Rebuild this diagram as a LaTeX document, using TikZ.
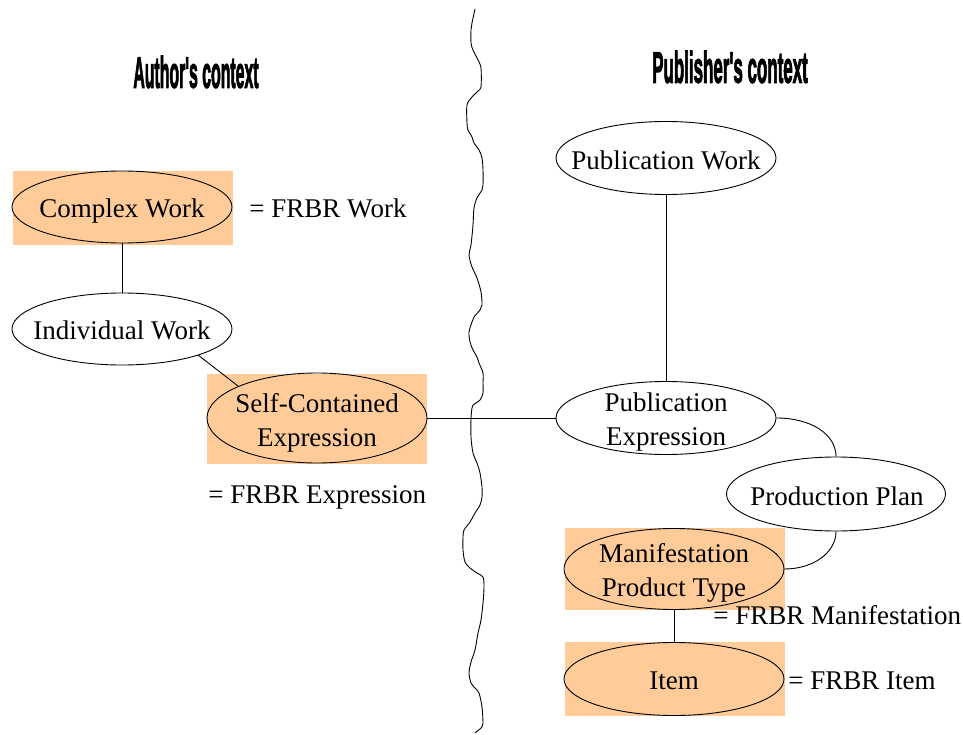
\documentclass[tikz,border=0pt]{standalone}
\usepackage{fontspec}
\setmainfont{Liberation Serif}
\newfontfamily\titlefont{Liberation Sans}[FakeBold=3]
\usepackage{graphicx}
\usetikzlibrary{shapes.geometric}
\definecolor{frbr}{HTML}{FFCC99}
\begin{document}
\begin{tikzpicture}[x=1pt,y=-1pt,
  every path/.style={line width=0.9pt},
  ell/.style={ellipse,draw,inner sep=0pt},
  txt/.style={font=\fontsize{27}{33.5}\selectfont,inner sep=0pt,text height=18pt,text depth=0pt},
  twoline/.style={font=\fontsize{27}{33.5}\selectfont,inner sep=0pt,align=center},
  eqtxt/.style={txt,anchor=west},
  ttl/.style={font=\titlefont\bfseries\fontsize{44}{50}\selectfont,inner sep=0pt}]
\useasboundingbox (0,0) rectangle (963,735);
% orange FRBR boxes
\fill[frbr] (13,171) rectangle (233,245);
\fill[frbr] (207,374) rectangle (427,464);
\fill[frbr] (565,528) rectangle (785,610);
\fill[frbr] (565,642) rectangle (785,716);
% titles
\node[ttl] (tauth) at (196,72) {\scalebox{0.36}[1]{Author's context}};
\node[ttl] (tpub) at (730,67) {\scalebox{0.385}[1]{Publisher's context}};
% separator
\draw plot[smooth,tension=0.5] coordinates {(475,9) (472,23) (471,30) (471,43) (473,50) (478,60) (481,68) (481,87) (478,91) (472,97) (467,105) (467,123) (468,130) (472,137) (474,143) (479,150) (482,158) (483,170) (483,185) (482,190) (477,198) (474,208) (473,225) (471,245) (469,255) (472,267) (477,278) (481,292) (482,305) (480,310) (474,317) (472,322) (469,332) (470,342) (473,350) (477,357) (479,363) (483,373) (483,383) (483,393) (480,400) (473,405) (472,408) (471,418) (471,437) (473,453) (477,463) (480,473) (482,487) (482,497) (480,505) (475,513) (470,522) (464,530) (463,537) (463,550) (465,562) (470,568) (477,573) (483,577) (484,587) (483,603) (481,620) (478,633) (475,650) (471,662) (469,673) (471,683) (475,688) (479,693) (482,707) (483,723) (482,727) (475,733)};
% ellipses
\node[ell,minimum width=220pt,minimum height=72pt] (cw) at (122,207) {};
\node[ell,minimum width=220pt,minimum height=72pt] (iw) at (122,329) {};
\node[ell,minimum width=220pt,minimum height=90pt] (sce) at (317,418) {};
\node[ell,minimum width=220pt,minimum height=73pt] (pw) at (666,158) {};
\node[ell,minimum width=220pt,minimum height=73pt] (pe) at (666,418) {};
\node[ell,minimum width=219pt,minimum height=74pt] (pp) at (836,494) {};
\node[ell,minimum width=220pt,minimum height=81pt] (mpt) at (674,569) {};
\node[ell,minimum width=220pt,minimum height=73pt] (item) at (674,679) {};
% labels
\node[txt] (cwt) at (122,209) {Complex Work};
\node[txt] (iwt) at (122,330) {Individual Work};
\node[twoline] (scet) at (317,423) {Self-Contained\\Expression};
\node[txt] (pwt) at (666,161) {Publication Work};
\node[twoline] (pet) at (666,422) {Publication\\Expression};
\node[txt] (ppt) at (837,496) {Production Plan};
\node[twoline] (mptt) at (674,573) {Manifestation\\Product Type};
\node[txt] (itemt) at (674,680) {Item};
% equivalences
\node[eqtxt] (eqw) at (249,209) {= FRBR Work};
\node[eqtxt] (eqe) at (208,494) {= FRBR Expression};
\node[eqtxt] (eqm) at (713,615) {= FRBR Manifestation};
\node[eqtxt] (eqi) at (788,680) {= FRBR Item};
% connectors
\draw (cw.south) -- (iw.north);
\draw (iw.-19) -- (sce.158);
\draw (sce.east) -- (pe.west);
\draw (pw.south) -- (pe.north);
\draw (pe.east) .. controls +(35,0) and +(0,-22) .. (pp.north);
\draw (pp.south) .. controls +(0,21) and +(29,0) .. (mpt.east);
\draw (mpt.south) -- (item.north);
\end{tikzpicture}
\end{document}
